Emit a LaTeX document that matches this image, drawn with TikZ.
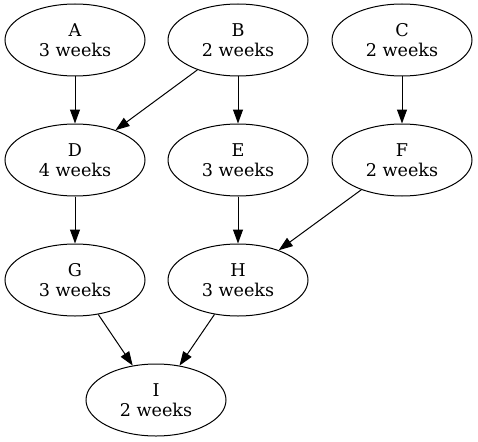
\documentclass[tikz,border=0pt]{standalone}
\usepackage{fontspec}
\setmainfont{DejaVu Serif}
\usetikzlibrary{shapes.geometric,arrows.meta}
\begin{document}
\begin{tikzpicture}[x=1pt,y=-1pt,
  task/.style={draw, ellipse, line width=1pt, minimum width=140pt, minimum height=72pt,
    inner sep=0pt, align=center, font=\fontsize{17.6}{20.5}\selectfont},
  dep/.style={draw, line width=1pt, -{Triangle[length=14pt,width=10pt]}}]
  \useasboundingbox (0,0) rectangle (478,441);
  \node[task] (A) at (75,40)  {A\\3 weeks};
  \node[task] (B) at (238,40) {B\\2 weeks};
  \node[task] (C) at (402,40) {C\\2 weeks};
  \node[task] (D) at (75,160)  {D\\4 weeks};
  \node[task] (E) at (238,160) {E\\3 weeks};
  \node[task] (F) at (402,160) {F\\2 weeks};
  \node[task] (G) at (75,280)  {G\\3 weeks};
  \node[task] (H) at (238,280) {H\\3 weeks};
  \node[task] (I) at (156,400) {I\\2 weeks};
  \draw[dep] (A) -- (D);
  \draw[dep] (B) -- (D);
  \draw[dep] (B) -- (E);
  \draw[dep] (C) -- (F);
  \draw[dep] (D) -- (G);
  \draw[dep] (E) -- (H);
  \draw[dep] (F) -- (H);
  \draw[dep] (G) -- (I);
  \draw[dep] (H) -- (I);
\end{tikzpicture}
\end{document}
